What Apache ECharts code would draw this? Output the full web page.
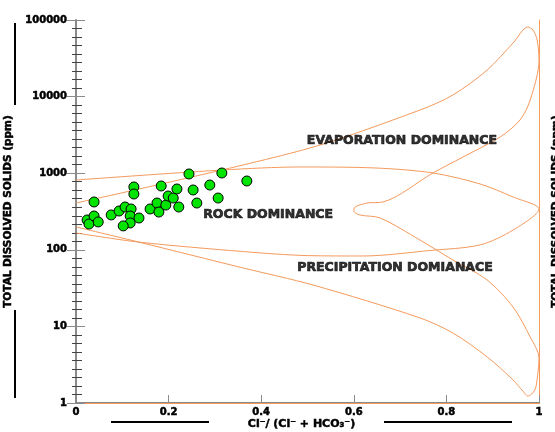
<!DOCTYPE html>
<html>
<head>
<meta charset="utf-8">
<script src="https://cdn.jsdelivr.net/npm/echarts@6/dist/echarts.min.js"></script>
<style>
  html, body { margin: 0; padding: 0; background: #fff; }
  #chart { width: 555px; height: 432px; }
</style>
</head>
<body>
<div id="chart"></div>
<script>
// Samples: Cl/(Cl+HCO3) ratio and TDS (ppm).
const sampleRatio = [0.039, 0.024, 0.028, 0.039, 0.048, 0.076, 0.093, 0.106, 0.119, 0.117,
  0.117, 0.102, 0.136, 0.125, 0.125, 0.160, 0.175, 0.179, 0.184, 0.194,
  0.199, 0.210, 0.218, 0.222, 0.244, 0.253, 0.261, 0.289, 0.307, 0.315, 0.369];
const sampleTDS = [421, 245, 217, 276, 231, 285, 321, 362, 341, 276,
  224, 205, 260, 661, 535, 341, 408, 311, 681, 384,
  504, 474, 622, 362, 977, 604, 408, 701, 474, 1006, 791];

// Gibbs envelope: outer upper edge, inner edge with the nose, outer lower edge.
const envelopeRatio = [0, 0.490, 0.743, 0.814, 0.888, 0.944, 0.976, 0.987, 0.996, 1.0,
  0.981, 0.959, 0.916, 0.836, 0.771, 0.663, 0.629, 0.603, 0.600, 0.613, 0.657,
  0.743, 0.814, 0.888, 0.944, 0.981, 1.0,
  0.997, 0.991, 0.976, 0.966, 0.944, 0.888, 0.814, 0.743, 0.512, 0.361, 0.136, 0];
const envelopeTDS = [408, 2010, 6680, 10500, 22200, 50100, 81100, 74000, 54800, 30000,
  9030, 4950, 2970, 1630, 1007, 421, 408, 362, 321, 285, 260,
  134, 73.6, 40.3, 17.9, 7.27, 3.87,
  2.3, 1.48, 1.23, 1.41, 2.0, 4.0, 8.2, 12.9, 34.7, 57.9, 126, 199];

// Rock dominance loop.
const rockRatio = [0, 0.317, 0.484, 0.648, 0.771, 0.873, 0.944, 1.0,
  0.944, 0.873, 0.765, 0.62, 0.50, 0.360, 0.136, 0];
const rockTDS = [815, 1101, 1205, 1169, 1007, 723, 489, 341,
  181, 116, 98, 83, 84, 95, 126, 166];

const regionNames = ['EVAPORATION DOMINANCE', 'ROCK DOMINANCE', 'PRECIPITATION DOMIANACE'];
const regionRatio = [0.704, 0.415, 0.689];
const regionTDS = [2630, 285, 57.9];

const ORANGE = '#f59a5c';
const GREY = '#8a8a8a';
const FONT = 'DejaVu Sans';

const zip = (a, b) => a.map((v, i) => [v, b[i]]);

const chart = echarts.init(document.getElementById('chart'), null, { renderer: 'canvas' });

const logAxis = {
  type: 'log',
  logBase: 10,
  min: 1,
  max: 100000,
  splitLine: { show: false },
  splitNumber: 5
};
// tick-only axes over the same decades, spaced evenly like the original drawing
const decadeAxis = {
  type: 'value',
  min: 0,
  max: 5,
  interval: 1,
  splitLine: { show: false },
  axisLabel: { show: false },
  axisLine: { show: false }
};

const boldText = { color: '#000', fontFamily: FONT, fontWeight: 'bold', textBorderColor: '#000', textBorderWidth: 0.5 };

chart.setOption({
  animation: false,
  backgroundColor: '#fff',
  grid: { left: 76, right: 16, top: 20, bottom: 29, containLabel: false, outerBoundsMode: 'none' },
  xAxis: [
    {
      type: 'value',
      min: 0,
      max: 1,
      interval: 0.2,
      position: 'bottom',
      axisLine: { lineStyle: { color: GREY, width: 2 } },
      axisTick: { inside: true, length: 8, lineStyle: { color: GREY, width: 1 } },
      axisLabel: Object.assign({}, boldText, {
        fontSize: 10, margin: 4,
        formatter: v => (v === 0 || v === 1) ? String(v) : v.toFixed(1)
      }),
      splitLine: { show: false },
      name: 'Cl\u207B/ (Cl\u207B + HCO\u2083\u207B)',
      nameLocation: 'middle',
      nameGap: 16,
      nameMoveOverlap: false,
      nameTextStyle: Object.assign({}, boldText, { fontSize: 11, padding: [0, 12, 0, 0] })
    },
    {
      type: 'value', min: 0, max: 1, position: 'top',
      axisLine: { show: true, lineStyle: { color: ORANGE, width: 1 } },
      axisTick: { show: false }, axisLabel: { show: false }, splitLine: { show: false }
    }
  ],
  yAxis: [
    Object.assign({}, logAxis, {
      position: 'left',
      axisLine: { show: true, lineStyle: { color: GREY, width: 2 } },
      axisTick: { show: false },
      axisLabel: Object.assign({}, boldText, {
        fontSize: 10, margin: 9,
        formatter: v => String(Math.round(v))
      }),
      name: 'TOTAL DISSOLVED SOLIDS (ppm)',
      nameLocation: 'middle',
      nameGap: 56,
      nameRotate: 90,
      nameTextStyle: Object.assign({}, boldText, { fontSize: 10.5 })
    }),
    Object.assign({}, decadeAxis, {
      position: 'left',
      axisTick: { show: true, inside: true, length: 9, lineStyle: { color: GREY, width: 1 } },
      minorTick: { show: true, splitNumber: 9, length: 6, lineStyle: { color: '#444', width: 1 } }
    }),
    Object.assign({}, decadeAxis, {
      position: 'left',
      axisTick: { show: true, length: 9, lineStyle: { color: GREY, width: 1 } },
      minorTick: { show: true, splitNumber: 9, length: 4, lineStyle: { color: '#444', width: 1 } }
    }),
    Object.assign({}, logAxis, {
      position: 'right',
      axisLine: { show: true, lineStyle: { color: ORANGE, width: 1 } },
      axisTick: { show: false },
      axisLabel: { show: false },
      name: 'TOTAL DISSOLVED SOLIDS (ppm)',
      nameLocation: 'middle',
      nameGap: 12,
      nameRotate: 90,
      nameTextStyle: Object.assign({}, boldText, { fontSize: 10.5 })
    })
  ],
  graphic: [
    // bars beside the axis titles
    { type: 'line', shape: { x1: 15, y1: 23, x2: 15, y2: 105 }, style: { stroke: '#000', lineWidth: 2 } },
    { type: 'line', shape: { x1: 15, y1: 310, x2: 15, y2: 398 }, style: { stroke: '#000', lineWidth: 2 } },
    { type: 'line', shape: { x1: 111, y1: 422, x2: 209, y2: 422 }, style: { stroke: '#000', lineWidth: 2 } },
    { type: 'line', shape: { x1: 384, y1: 422, x2: 512, y2: 422 }, style: { stroke: '#000', lineWidth: 2 } }
  ],
  series: [
    {
      type: 'line',
      data: zip(envelopeRatio, envelopeTDS),
      symbol: 'none',
      smooth: 0.3,
      lineStyle: { color: ORANGE, width: 1 },
      z: 1
    },
    {
      type: 'line',
      data: zip(rockRatio, rockTDS),
      symbol: 'none',
      smooth: 0.3,
      lineStyle: { color: ORANGE, width: 1 },
      z: 1
    },
    {
      type: 'scatter',
      data: zip(sampleRatio, sampleTDS),
      symbol: 'circle',
      symbolSize: 10,
      itemStyle: { color: '#00e400', borderColor: '#000', borderWidth: 1, opacity: 1 },
      z: 3
    },
    {
      type: 'scatter',
      data: regionNames.map((n, i) => ({ name: n, value: [regionRatio[i], regionTDS[i]] })),
      symbolSize: 0,
      silent: true,
      label: Object.assign({}, boldText, {
        show: true, position: 'inside', formatter: p => p.name, fontSize: 12.5, textBorderWidth: 0.7
      }),
      z: 4
    }
  ]
});
</script>
</body>
</html>
